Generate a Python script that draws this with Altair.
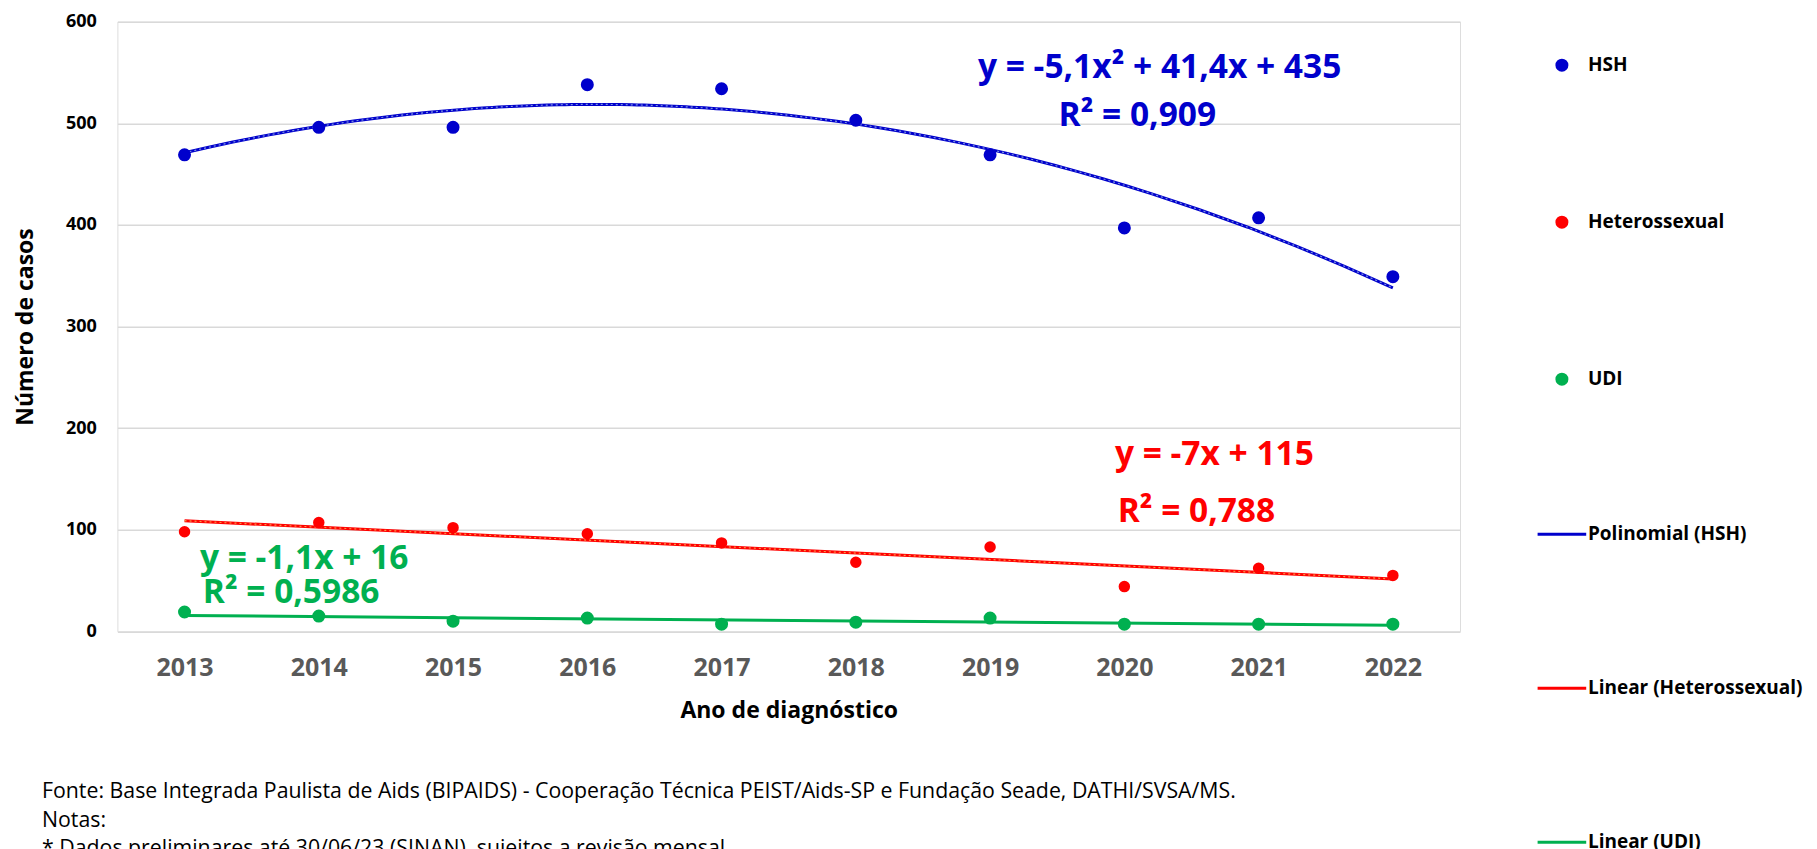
import altair as alt
import pandas as pd

# ---------------- data ----------------
anos = [2013, 2014, 2015, 2016, 2017, 2018, 2019, 2020, 2021, 2022]
hsh = [469, 496, 496, 538, 534, 503, 469, 397, 407, 349]
heterossexual = [98, 107, 102, 96, 87, 68, 83, 44, 62, 55]
udi = [19, 15, 10, 13, 7, 9, 13, 7, 7, 7]

series = ["HSH", "Heterossexual", "UDI"]
legend_labels = ["HSH", "Heterossexual", "UDI",
                 "Polinomial (HSH)", "Linear (Heterossexual)", "Linear (UDI)"]
y_ticks = [0, 100, 200, 300, 400, 500, 600]

eq_hsh = ["y = -5,1x² + 41,4x + 435", "R² = 0,909"]
eq_het = ["y = -7x + 115", "R² = 0,788"]
eq_udi = ["y = -1,1x + 16", "R² = 0,5986"]

notas = [
    "Fonte: Base Integrada Paulista de Aids (BIPAIDS) - Cooperação Técnica PEIST/Aids-SP e Fundação Seade, DATHI/SVSA/MS.",
    "Notas:",
    "*  Dados preliminares até 30/06/23 (SINAN), sujeitos a revisão mensal.",
]

# ---------------- styles ----------------
BLUE = "#0000CC"
RED = "#FF0000"
GREEN = "#00B050"
legend_colors = [BLUE, RED, GREEN, BLUE, RED, GREEN]
LINE_SYMBOL = "M-4.86,0H4.86"
legend_shapes = ["circle", "circle", "circle", LINE_SYMBOL, LINE_SYMBOL, LINE_SYMBOL]
FONT = "Open Sans"
EQ_SIZE = 33.5

W, H = 1342.6, 609.6

rows = []
for nome, vals in zip(series, [hsh, heterossexual, udi]):
    for a, v in zip(anos, vals):
        rows.append({"ano": a, "valor": v, "serie": nome})
df = pd.DataFrame(rows)

x_enc = alt.X(
    "ano:Q",
    scale=alt.Scale(domain=[2012.5, 2022.5], nice=False, zero=False),
    axis=alt.Axis(
        values=anos, format="d", title="Ano de diagnóstico", grid=False,
        ticks=False, domain=False, labelFontSize=25, labelFontWeight="bold",
        labelColor="#595959", labelPadding=24, titleFontSize=23,
        titleFontWeight="bold", titleColor="#000000", titlePadding=19,
        labelFont=FONT, titleFont=FONT,
    ),
)
y_enc = alt.Y(
    "valor:Q",
    scale=alt.Scale(domain=[0, 600], nice=False),
    axis=alt.Axis(
        values=y_ticks, title="Número de casos", grid=True,
        gridColor="#D9D9D9", gridWidth=1.5, ticks=False, domain=False,
        labelFontSize=18, labelFontWeight="bold", labelColor="#000000",
        labelPadding=21, titleFontSize=23, titleFontWeight="bold",
        titleColor="#000000", titlePadding=28, labelFont=FONT, titleFont=FONT,
    ),
)

legend = alt.Legend(
    title=None, orient="none", legendX=1435, legendY=34, direction="vertical",
    rowPadding=134, labelFontSize=19, labelFontWeight="bold",
    labelColor="#000000", labelFont=FONT, labelLimit=500, labelOffset=16.5,
    symbolSize=100, padding=0, symbolStrokeWidth=3, symbolOpacity=1,
)

points = alt.Chart(df).mark_point(filled=True, opacity=1, strokeWidth=3).encode(
    x=x_enc,
    y=y_enc,
    fill=alt.Fill("serie:N",
                  scale=alt.Scale(domain=legend_labels, range=legend_colors),
                  legend=legend),
    stroke=alt.Stroke("serie:N",
                      scale=alt.Scale(domain=legend_labels, range=legend_colors),
                      legend=legend),
    shape=alt.Shape("serie:N",
                    scale=alt.Scale(domain=legend_labels, range=legend_shapes),
                    legend=legend),
    size=alt.condition(alt.datum.serie == "Heterossexual", alt.value(72), alt.value(100)),
)


def trend(nome, color, overlay, method, order=None):
    base = alt.Chart(df).transform_filter(alt.datum.serie == nome)
    if order:
        base = base.transform_regression("ano", "valor", method=method, order=order)
    else:
        base = base.transform_regression("ano", "valor", method=method)
    solid = base.mark_line(color=color, strokeWidth=3).encode(x="ano:Q", y="valor:Q")
    out = [solid]
    if overlay:
        out.append(base.mark_line(color=overlay, strokeWidth=1.2, strokeDash=[2, 3])
                   .encode(x="ano:Q", y="valor:Q"))
    return out


def texto(txt, ano, valor, color, size=EQ_SIZE):
    return alt.Chart(pd.DataFrame({"t": [txt]})).mark_text(
        align="left", baseline="alphabetic", fontSize=size, fontWeight="bold",
        color=color, font=FONT,
    ).encode(x=alt.datum(ano), y=alt.datum(valor), text="t:N")


def nota(txt, px, py):
    return alt.Chart(pd.DataFrame({"t": [txt]})).mark_text(
        align="left", baseline="alphabetic", fontSize=21.3, color="#000000", font=FONT,
    ).encode(x=alt.value(px), y=alt.value(py), text="t:N")


layers = []
layers += trend("HSH", BLUE, "#7B93E0", "poly", 2)
layers += trend("Heterossexual", RED, "#F79646", "linear")
layers += trend("UDI", GREEN, None, "linear")
layers.append(points)
layers += [
    texto(eq_hsh[0], 2018.91, 544.2, BLUE),
    texto(eq_hsh[1], 2019.51, 497.2, BLUE),
    texto(eq_het[0], 2019.93, 163.7, RED),
    texto(eq_het[1], 2019.95, 107.9, RED),
    texto(eq_udi[0], 2013.115, 61.0, GREEN),
    texto(eq_udi[1], 2013.136, 27.5, GREEN),
    nota(notas[0], -75.4, 776.3),
    nota(notas[1], -75.4, 805),
    nota(notas[2], -75.4, 833.5),
]

chart = alt.layer(*layers).properties(
    width=W, height=H,
    autosize=alt.AutoSizeParams(type="none"),
    padding={"left": 109.4, "top": 13.7, "right": 349, "bottom": 225.7},
    background="white",
).configure_view(stroke=None).configure(font=FONT)

chart.save("out.html", embed_options={"renderer": "svg", "actions": False})
